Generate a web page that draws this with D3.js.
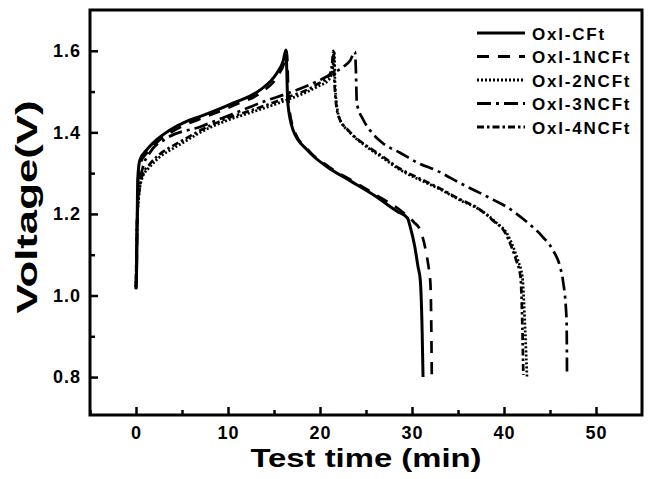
<!DOCTYPE html>
<html>
<head>
<meta charset="utf-8">
<script src="https://cdn.jsdelivr.net/npm/d3@7"></script>
<style>
  body { margin: 0; background: #fff; }
  text { font-family: "Liberation Sans", Arial, sans-serif; font-weight: bold; }
</style>
</head>
<body>
<script>
// series names as in the legend
var names = ["Oxl-CFt", "Oxl-1NCFt", "Oxl-2NCFt", "Oxl-3NCFt", "Oxl-4NCFt"];

// time (min) and voltage (V)
var cftTime = [0, 0.1, 0.15, 0.2, 0.43, 1.16, 2.25, 3.7, 5.5, 7.0, 10.6, 13.5, 15.3, 16.0, 16.3, 16.5, 17.07, 18.6, 20.8, 23.3, 25.8, 28.4, 29.5, 29.8, 30.3, 30.65, 30.9, 31.1, 31.2];
var cftVolt = [1.015, 1.11, 1.23, 1.29, 1.333, 1.357, 1.382, 1.406, 1.427, 1.439, 1.472, 1.504, 1.545, 1.575, 1.602, 1.472, 1.406, 1.357, 1.315, 1.281, 1.247, 1.206, 1.19, 1.169, 1.12, 1.071, 1.038, 0.915, 0.80];

var n1Time = [0, 0.1, 0.15, 0.22, 0.5, 1.2, 2.3, 3.8, 5.6, 7.1, 10.7, 13.6, 15.4, 16.1, 16.4, 16.6, 17.2, 18.7, 21.0, 23.6, 26.2, 28.9, 30.2, 30.9, 31.5, 31.8, 32.0, 32.1, 32.15];
var n1Volt = [1.02, 1.11, 1.22, 1.28, 1.325, 1.35, 1.376, 1.40, 1.421, 1.434, 1.467, 1.498, 1.538, 1.57, 1.598, 1.47, 1.405, 1.357, 1.315, 1.28, 1.245, 1.206, 1.18, 1.16, 1.11, 1.07, 1.03, 0.92, 0.805];

var n2Time = [0, 0.1, 0.3, 0.7, 1.5, 2.6, 4, 5.5, 7, 10, 12.4, 16, 19.7, 21, 21.4, 21.55, 21.65, 22.1, 23.3, 25.1, 26.85, 28.7, 30.9, 33.0, 35.2, 37.4, 39.2, 40.3, 41.0, 41.5, 42.0, 42.3, 42.5];
var n2Volt = [1.02, 1.15, 1.24, 1.29, 1.315, 1.34, 1.36, 1.38, 1.40, 1.43, 1.448, 1.476, 1.512, 1.53, 1.56, 1.60, 1.51, 1.435, 1.399, 1.364, 1.337, 1.308, 1.283, 1.261, 1.234, 1.21, 1.178, 1.153, 1.119, 1.087, 1.045, 0.915, 0.80];

var n3Time = [0, 0.1, 0.3, 0.7, 1.5, 3.3, 7, 10.5, 14.2, 16.4, 19.7, 21.4, 22.5, 23.3, 23.8, 23.9, 24.0, 24.7, 25.4, 26.8, 28.7, 30.65, 32.7, 35.2, 38.2, 40.3, 42.5, 44.2, 45.3, 46.1, 46.4, 46.8, 46.85];
var n3Volt = [1.02, 1.17, 1.26, 1.31, 1.35, 1.385, 1.414, 1.445, 1.478, 1.495, 1.525, 1.545, 1.56, 1.577, 1.598, 1.553, 1.472, 1.431, 1.406, 1.374, 1.35, 1.325, 1.306, 1.276, 1.242, 1.217, 1.18, 1.144, 1.112, 1.07, 1.038, 0.94, 0.805];

var n4Time = [0, 0.1, 0.3, 0.7, 1.5, 2.6, 4, 5.5, 7, 10, 12.4, 16, 19.7, 21, 21.3, 21.45, 21.6, 22.0, 23.2, 25.0, 26.8, 28.6, 30.8, 32.9, 35.1, 37.3, 39.0, 40.1, 40.8, 41.3, 41.8, 42.0, 42.1];
var n4Volt = [1.02, 1.16, 1.245, 1.295, 1.322, 1.347, 1.367, 1.386, 1.405, 1.435, 1.453, 1.482, 1.518, 1.54, 1.565, 1.60, 1.51, 1.44, 1.402, 1.368, 1.341, 1.312, 1.287, 1.264, 1.237, 1.212, 1.18, 1.155, 1.12, 1.088, 1.045, 0.92, 0.805];

var xTicks = [0, 10, 20, 30, 40, 50];
var xMinor = [-5, 5, 15, 25, 35, 45];
var yTicks = [0.8, 1.0, 1.2, 1.4, 1.6];
var yMinor = [0.9, 1.1, 1.3, 1.5];

var times = [cftTime, n1Time, n2Time, n3Time, n4Time];
var volts = [cftVolt, n1Volt, n2Volt, n3Volt, n4Volt];
var dashes = ["none", "12,9", "2,2", "14,5,3,5", "7,3,2.5,3"];

var width = 653, height = 479;
// plot frame edges (window.top is read-only, so prefixed names)
var pLeft = 90, pRight = 642, pTop = 10, pBottom = 415;

var svg = d3.select("body").append("svg")
    .attr("width", width)
    .attr("height", height);

var x = d3.scaleLinear().domain([-5, 55]).range([pLeft, pRight]);
var y = d3.scaleLinear().domain([0.707, 1.70]).range([pBottom, pTop]);

// ticks point inward
svg.append("g")
    .attr("transform", "translate(0," + pBottom + ")")
    .call(d3.axisBottom(x).tickValues(xTicks).tickSize(-8).tickPadding(11).tickFormat(d3.format("d")));
svg.append("g")
    .attr("transform", "translate(0," + pBottom + ")")
    .call(d3.axisBottom(x).tickValues(xMinor).tickSize(-5).tickFormat(""));
svg.append("g")
    .attr("transform", "translate(" + pLeft + ",0)")
    .call(d3.axisLeft(y).tickValues(yTicks).tickSize(-8).tickPadding(9).tickFormat(d3.format(".1f")));
svg.append("g")
    .attr("transform", "translate(" + pLeft + ",0)")
    .call(d3.axisLeft(y).tickValues(yMinor).tickSize(-5).tickFormat(""));

svg.selectAll(".domain").remove();
svg.selectAll(".tick line").attr("stroke", "#000").attr("stroke-width", 2.5);
svg.selectAll(".tick text")
    .attr("fill", "#000")
    .style("font-size", "18px")
    .style("letter-spacing", "1px")
    .style("font-weight", "bold")
    .style("font-family", "'Liberation Sans', Arial, sans-serif");

// curves
var line = d3.line()
    .x(function(d) { return x(d[0]); })
    .y(function(d) { return y(d[1]); })
    .curve(d3.curveMonotoneX);

names.forEach(function(name, i) {
    var pts = times[i].map(function(t, j) { return [t, volts[i][j]]; });
    svg.append("path")
        .datum(pts)
        .attr("d", line)
        .attr("fill", "none")
        .attr("stroke", "#000")
        .attr("stroke-width", i == 0 ? 3 : 2.7)
        .attr("stroke-dasharray", dashes[i]);
});

// frame
svg.append("rect")
    .attr("x", pLeft)
    .attr("y", pTop)
    .attr("width", pRight - pLeft)
    .attr("height", pBottom - pTop)
    .attr("fill", "none")
    .attr("stroke", "#000")
    .attr("stroke-width", 3);

// legend
var legend = svg.selectAll(".leg")
    .data(names)
    .enter()
    .append("g")
    .attr("transform", function(d, i) {
        return "translate(477," + (33 + i * 23.5) + ")";
    });
legend.append("line")
    .attr("x1", 0).attr("x2", 48)
    .attr("stroke", "#000")
    .attr("stroke-width", 3.2)
    .attr("stroke-dasharray", function(d, i) { return dashes[i]; });
legend.append("text")
    .attr("x", 55)
    .attr("y", 6.5)
    .style("font-size", "17px")
    .style("letter-spacing", "1.8px")
    .text(function(d) { return d; });

// axis titles (the originals are drawn wide, so stretch them)
svg.append("text")
    .attr("x", (pLeft + pRight) / 2)
    .attr("y", 467)
    .attr("text-anchor", "middle")
    .attr("textLength", 231)
    .attr("lengthAdjust", "spacingAndGlyphs")
    .style("font-size", "26px")
    .text("Test time (min)");
svg.append("text")
    .attr("transform", "translate(37,207) rotate(-90)")
    .attr("text-anchor", "middle")
    .attr("textLength", 213)
    .attr("lengthAdjust", "spacingAndGlyphs")
    .style("font-size", "30px")
    .text("Voltage(V)");
</script>
</body>
</html>
